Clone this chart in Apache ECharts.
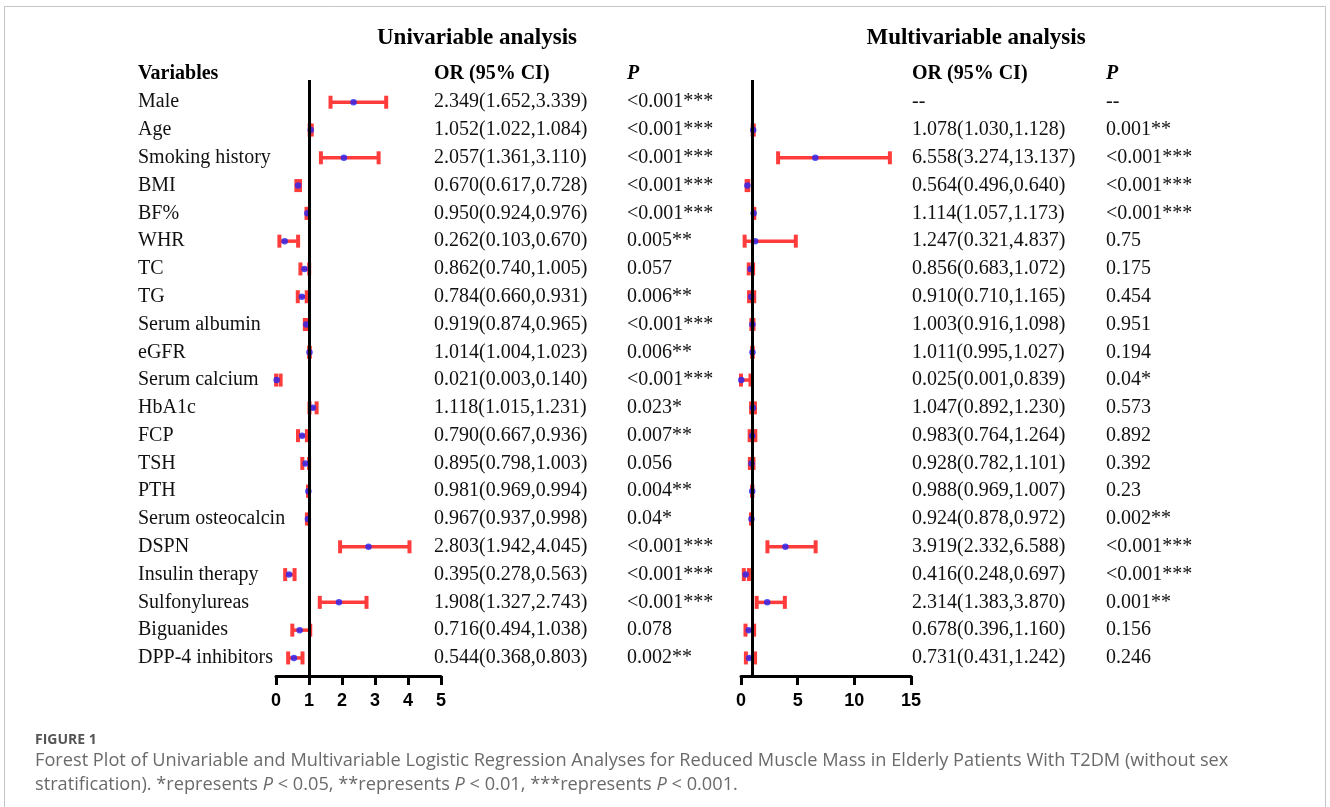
<!DOCTYPE html>
<html><head><meta charset="utf-8">
<script src="https://cdn.jsdelivr.net/npm/echarts@6/dist/echarts.min.js"></script>
<style>html,body{margin:0;padding:0;background:#fff;}#c{width:1330px;height:807px;}</style>
</head><body><div id="c"></div>
<script>
const variables = ['Male','Age','Smoking history','BMI','BF%','WHR','TC','TG','Serum albumin','eGFR','Serum calcium','HbA1c','FCP','TSH','PTH','Serum osteocalcin','DSPN','Insulin therapy','Sulfonylureas','Biguanides','DPP-4 inhibitors'];

const uniOR = [2.349,1.052,2.057,0.670,0.950,0.262,0.862,0.784,0.919,1.014,0.021,1.118,0.790,0.895,0.981,0.967,2.803,0.395,1.908,0.716,0.544];
const uniLo = [1.652,1.022,1.361,0.617,0.924,0.103,0.740,0.660,0.874,1.004,0.003,1.015,0.667,0.798,0.969,0.937,1.942,0.278,1.327,0.494,0.368];
const uniHi = [3.339,1.084,3.110,0.728,0.976,0.670,1.005,0.931,0.965,1.023,0.140,1.231,0.936,1.003,0.994,0.998,4.045,0.563,2.743,1.038,0.803];
const uniP = ['<0.001***','<0.001***','<0.001***','<0.001***','<0.001***','0.005**','0.057','0.006**','<0.001***','0.006**','<0.001***','0.023*','0.007**','0.056','0.004**','0.04*','<0.001***','<0.001***','<0.001***','0.078','0.002**'];

const multiOR = [null,1.078,6.558,0.564,1.114,1.247,0.856,0.910,1.003,1.011,0.025,1.047,0.983,0.928,0.988,0.924,3.919,0.416,2.314,0.678,0.731];
const multiLo = [null,1.030,3.274,0.496,1.057,0.321,0.683,0.710,0.916,0.995,0.001,0.892,0.764,0.782,0.969,0.878,2.332,0.248,1.383,0.396,0.431];
const multiHi = [null,1.128,13.137,0.640,1.173,4.837,1.072,1.165,1.098,1.027,0.839,1.230,1.264,1.101,1.007,0.972,6.588,0.697,3.870,1.160,1.242];
const multiP = ['--','0.001**','<0.001***','<0.001***','<0.001***','0.75','0.175','0.454','0.951','0.194','0.04*','0.573','0.892','0.392','0.23','0.002**','<0.001***','<0.001***','0.001**','0.156','0.246'];

const uniTicks = [0,1,2,3,4,5];
const multiTicks = [0,5,10,15];

const SERIF = '"Liberation Serif","Times New Roman",serif';
const SANS = '"Liberation Sans",Arial,sans-serif';
const RED = '#ff3c3c';
const BLUE = '#2424f5';
const Y_MIN = -0.8, Y_MAX = 20.65;

function orText(o,l,h){ return o==null ? '--' : o.toFixed(3)+'('+l.toFixed(3)+','+h.toFixed(3)+')'; }

function errData(or,lo,hi){ const d=[]; or.forEach((v,i)=>{ if(v!=null) d.push([v,lo[i],hi[i],i]); }); return d; }
function dotData(or){ const d=[]; or.forEach((v,i)=>{ if(v!=null) d.push([v,i]); }); return d; }

function errRender(params, api){
  const row = api.value(3);
  const a = api.coord([api.value(1), row]);
  const b = api.coord([api.value(2), row]);
  const capH = 13, capW = 4;
  return {type:'group', children:[
    {type:'line', shape:{x1:a[0],y1:a[1],x2:b[0],y2:b[1]}, style:{stroke:RED, lineWidth:3.5}},
    {type:'rect', shape:{x:a[0]-capW/2,y:a[1]-capH/2,width:capW,height:capH}, style:{fill:RED}},
    {type:'rect', shape:{x:b[0]-capW/2,y:b[1]-capH/2,width:capW,height:capH}, style:{fill:RED}}
  ]};
}

function textRender(cols){
  return function(params, api){
    const i = api.value(1);
    const y = api.coord([0, i])[1];
    return {type:'group', children: cols.map(c => ({
      type:'text', x:c.x, y:y,
      style:{text:c.arr(i), fill:'#111', font:'20px '+SERIF, align:'left', verticalAlign:'middle'}
    }))};
  };
}

const rows = variables.map((v,i)=>[0,i]);

function xAxisCfg(idx, ticks, interval){
  return {gridIndex:idx, type:'value', position:'bottom', min:ticks[0], max:ticks[ticks.length-1], interval:interval,
    axisLine:{show:true, onZero:false, lineStyle:{color:'#000', width:3}},
    axisTick:{show:true, inside:false, length:9, lineStyle:{color:'#000', width:3}},
    axisLabel:{color:'#000', fontFamily:SANS, fontWeight:'bold', fontSize:18, margin:16},
    splitLine:{show:false}};
}
function yAxisCfg(idx){
  return {gridIndex:idx, type:'value', inverse:true, min:Y_MIN, max:Y_MAX, show:false};
}
function vline(){
  return {silent:true, symbol:'none', label:{show:false}, animation:false,
    lineStyle:{color:'#000', width:3, type:'solid'},
    data:[[{coord:[1,Y_MIN]},{coord:[1,Y_MAX]}]]};
}

const chart = echarts.init(document.getElementById('c'), null, {renderer:'canvas'});
chart.setOption({
  animation:false,
  backgroundColor:'#fff',
  grid:[
    {left:276, width:165, top:80, height:596},
    {left:741, width:170, top:80, height:596}
  ],
  xAxis:[xAxisCfg(0,uniTicks,1), xAxisCfg(1,multiTicks,5)],
  yAxis:[yAxisCfg(0), yAxisCfg(1)],
  graphic:[
    {type:'rect', shape:{x:4.5,y:6.5,width:1321,height:820}, style:{fill:'none', stroke:'#c4c4c8', lineWidth:1}, silent:true},
    {type:'text', x:477, y:38, style:{text:'Univariable analysis', font:'bold 23px '+SERIF, fill:'#000', align:'center', verticalAlign:'middle'}},
    {type:'text', x:976, y:38, style:{text:'Multivariable analysis', font:'bold 23px '+SERIF, fill:'#000', align:'center', verticalAlign:'middle'}},
    {type:'text', x:138, y:74, style:{text:'Variables', font:'bold 20px '+SERIF, fill:'#000', align:'left', verticalAlign:'middle'}},
    {type:'text', x:434, y:74, style:{text:'OR (95% CI)', font:'bold 20px '+SERIF, fill:'#000', align:'left', verticalAlign:'middle'}},
    {type:'text', x:627, y:74, style:{text:'P', font:'italic bold 20px '+SERIF, fill:'#000', align:'left', verticalAlign:'middle'}},
    {type:'text', x:912, y:74, style:{text:'OR (95% CI)', font:'bold 20px '+SERIF, fill:'#000', align:'left', verticalAlign:'middle'}},
    {type:'text', x:1106, y:74, style:{text:'P', font:'italic bold 20px '+SERIF, fill:'#000', align:'left', verticalAlign:'middle'}},
    {type:'text', x:35, y:740, style:{text:'FIGURE 1', font:'bold 14px "Open Sans",sans-serif', fill:'#555', align:'left', verticalAlign:'middle'}},
    {type:'text', x:35, y:761, style:{
      text:'Forest Plot of Univariable and Multivariable Logistic Regression Analyses for Reduced Muscle Mass in Elderly Patients With T2DM (without sex',
      font:'18.2px "Open Sans",sans-serif', fill:'#6a6a6a', align:'left', verticalAlign:'middle'}},
    {type:'text', x:35, y:785, style:{
      text:'stratification). *represents {i|P} < 0.05, **represents {i|P} < 0.01, ***represents {i|P} < 0.001.',
      font:'18.2px "Open Sans",sans-serif', fill:'#6a6a6a', align:'left', verticalAlign:'middle',
      rich:{i:{fontStyle:'italic', fontFamily:'"Open Sans",sans-serif', fontSize:18.2, fill:'#6a6a6a'}}}}
  ],
  series:[
    {type:'custom', xAxisIndex:0, yAxisIndex:0, data:errData(uniOR,uniLo,uniHi), renderItem:errRender, encode:{x:[1,2], y:3}, z:2, silent:true},
    {type:'scatter', xAxisIndex:0, yAxisIndex:0, data:dotData(uniOR), symbolSize:6.5, itemStyle:{color:BLUE}, z:3, silent:true, markLine:vline()},
    {type:'custom', xAxisIndex:0, yAxisIndex:0, data:rows, encode:{x:0,y:1}, silent:true,
      renderItem:textRender([
        {x:138, arr:i=>variables[i]},
        {x:434, arr:i=>orText(uniOR[i],uniLo[i],uniHi[i])},
        {x:627, arr:i=>uniP[i]}
      ])},
    {type:'custom', xAxisIndex:1, yAxisIndex:1, data:errData(multiOR,multiLo,multiHi), renderItem:errRender, encode:{x:[1,2], y:3}, z:2, silent:true},
    {type:'scatter', xAxisIndex:1, yAxisIndex:1, data:dotData(multiOR), symbolSize:6.5, itemStyle:{color:BLUE}, z:3, silent:true, markLine:vline()},
    {type:'custom', xAxisIndex:1, yAxisIndex:1, data:rows, encode:{x:0,y:1}, silent:true,
      renderItem:textRender([
        {x:912, arr:i=>orText(multiOR[i],multiLo[i],multiHi[i])},
        {x:1106, arr:i=>multiP[i]}
      ])}
  ]
});
</script></body></html>
